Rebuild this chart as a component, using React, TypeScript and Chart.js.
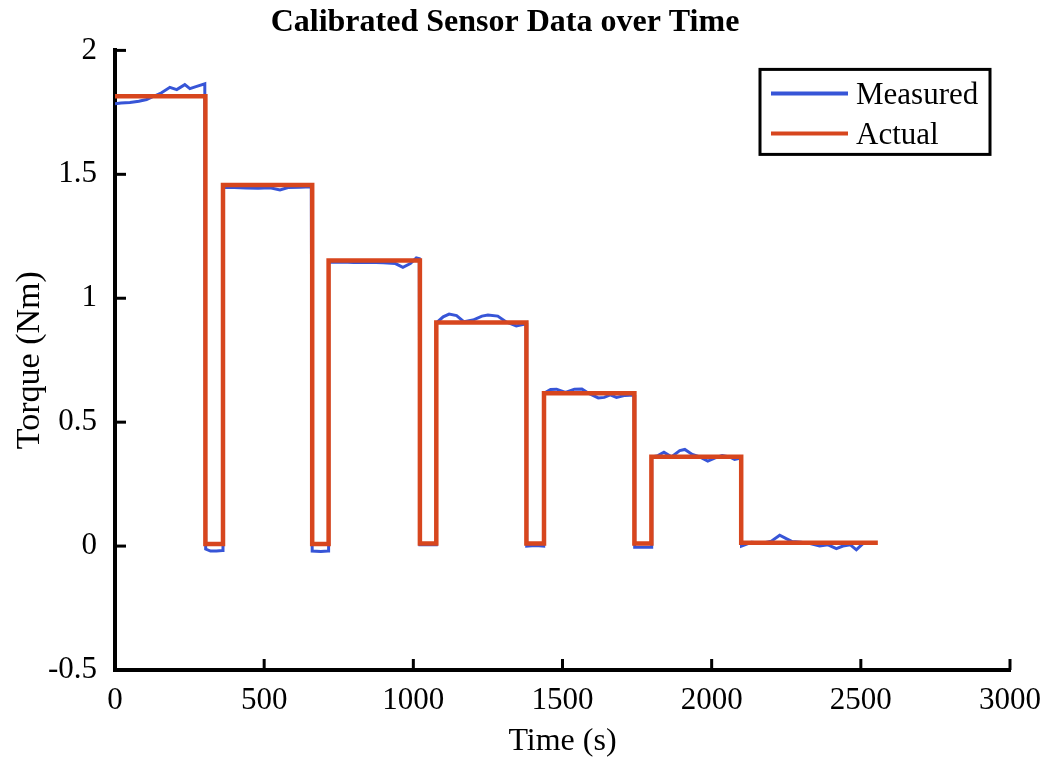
import React, { useEffect, useRef } from "react";
import { Chart, registerables } from "chart.js";

Chart.register(...registerables);

const chartTitle = "Calibrated Sensor Data over Time";
const xTitle = "Time (s)";
const yTitle = "Torque (Nm)";
const seriesNames = ["Measured", "Actual"];

const xTicks = [0, 500, 1000, 1500, 2000, 2500, 3000];
const yTicks = [-0.5, 0, 0.5, 1, 1.5, 2];

// Actual (reference) torque: step profile
const actualTime = [0, 303, 303, 362, 362, 661, 661, 716, 716, 1022, 1022, 1077, 1077, 1379, 1379, 1438, 1438, 1741, 1741, 1798, 1798, 2099, 2099, 2557];
const actualTorque = [1.815, 1.815, 0.008, 0.008, 1.457, 1.457, 0.008, 0.008, 1.152, 1.152, 0.01, 0.01, 0.902, 0.902, 0.01, 0.01, 0.617, 0.617, 0.01, 0.01, 0.36, 0.36, 0.013, 0.013];

// Measured torque (sensor)
const measuredTime = [
  0, 20, 50, 80, 106, 130, 156, 184, 207, 234, 251, 274, 301,
  304, 320, 340, 360,
  362, 400, 440, 480, 520, 553, 580, 620, 658,
  661, 690, 714,
  716, 760, 800, 850, 900, 940, 965, 990, 1010, 1020,
  1022, 1050, 1076,
  1077, 1100, 1120, 1145, 1170, 1200, 1230, 1250, 1283, 1310, 1345, 1370, 1378,
  1380, 1410, 1437,
  1439, 1460, 1480, 1510, 1540, 1565, 1590, 1620, 1640, 1660, 1681, 1710, 1740,
  1742, 1770, 1797,
  1799, 1820, 1840, 1865, 1893, 1910, 1935, 1960, 1987, 2010, 2035, 2060, 2077, 2098,
  2100, 2133, 2170, 2200, 2228, 2250, 2270, 2300, 2330, 2362, 2390, 2418, 2440, 2465, 2485, 2507, 2520,
];
const measuredTorque = [
  1.785, 1.788, 1.79, 1.795, 1.802, 1.815, 1.829, 1.851, 1.842, 1.862, 1.846, 1.855, 1.865,
  -0.012, -0.02, -0.02, -0.018,
  1.448, 1.447, 1.445, 1.444, 1.446, 1.437, 1.447, 1.448, 1.45,
  -0.02, -0.022, -0.02,
  1.145, 1.146, 1.144, 1.145, 1.143, 1.14, 1.125, 1.14, 1.163, 1.16,
  0.005, 0.005, 0.005,
  0.9, 0.925, 0.936, 0.93, 0.905, 0.912, 0.928, 0.932, 0.928, 0.905, 0.888, 0.895, 0.9,
  0.0, 0.002, 0.0,
  0.617, 0.632, 0.633, 0.62, 0.633, 0.634, 0.615, 0.598, 0.6, 0.61, 0.6, 0.608, 0.61,
  -0.005, -0.005, -0.005,
  0.36, 0.365, 0.379, 0.36, 0.385, 0.39, 0.37, 0.36, 0.343, 0.355, 0.365, 0.36, 0.35, 0.355,
  0.0, 0.015, 0.012, 0.02, 0.044, 0.03, 0.018, 0.015, 0.01, 0.0, 0.005, -0.01, 0.0, 0.005, -0.015, 0.01, 0.01,
];

const BLUE = "rgb(55, 85, 215)";
const RED = "rgb(215, 70, 30)";
const FONT = "'Liberation Serif', 'Times New Roman', serif";

const axesPlugin = {
  id: "inwardTicksAndLegend",
  afterDatasetsDraw(chart: any) {
    const { ctx, chartArea, scales } = chart;
    const xs = scales.x;
    const ys = scales.y;
    ctx.save();
    ctx.strokeStyle = "#000";
    ctx.lineWidth = 3;
    ctx.lineCap = "butt";
    xs.ticks.forEach((t: any) => {
      const px = xs.getPixelForValue(t.value);
      if (Math.abs(px - chartArea.left) < 2) return;
      ctx.beginPath();
      ctx.moveTo(px, chartArea.bottom);
      ctx.lineTo(px, chartArea.bottom - 11);
      ctx.stroke();
    });
    ys.ticks.forEach((t: any) => {
      const py = ys.getPixelForValue(t.value);
      if (Math.abs(py - chartArea.bottom) < 2) return;
      ctx.beginPath();
      ctx.moveTo(chartArea.left, py);
      ctx.lineTo(chartArea.left + 11, py);
      ctx.stroke();
    });

    // legend box
    const boxW = 230;
    const boxH = 85;
    const bx = chartArea.right - 20 - boxW;
    const by = chartArea.top + 19;
    ctx.fillStyle = "#fff";
    ctx.fillRect(bx, by, boxW, boxH);
    ctx.lineWidth = 3;
    ctx.strokeStyle = "#000";
    ctx.strokeRect(bx, by, boxW, boxH);
    ctx.font = `31px ${FONT}`;
    ctx.textBaseline = "middle";
    ctx.textAlign = "left";
    chart.data.datasets.forEach((ds: any, i: number) => {
      const ly = by + 24 + i * 40;
      ctx.strokeStyle = ds.borderColor;
      ctx.lineWidth = 4;
      ctx.beginPath();
      ctx.moveTo(bx + 11, ly);
      ctx.lineTo(bx + 88, ly);
      ctx.stroke();
      ctx.fillStyle = "#000";
      ctx.fillText(ds.label, bx + 96, ly + 2);
    });
    ctx.restore();
  },
};

export default function App() {
  const canvasRef = useRef<HTMLCanvasElement | null>(null);

  useEffect(() => {
    document.body.style.margin = "0";
    const canvas = canvasRef.current;
    if (!canvas) return;
    const measuredData = measuredTime.map((t, i) => ({ x: t, y: measuredTorque[i] }));
    const actualData = actualTime.map((t, i) => ({ x: t, y: actualTorque[i] }));

    const chart = new Chart(canvas, {
      type: "line",
      data: {
        datasets: [
          {
            label: seriesNames[0],
            data: measuredData,
            borderColor: BLUE,
            backgroundColor: BLUE,
            borderWidth: 3,
            pointRadius: 0,
            tension: 0,
            order: 2,
          },
          {
            label: seriesNames[1],
            data: actualData,
            borderColor: RED,
            backgroundColor: RED,
            borderWidth: 4.5,
            pointRadius: 0,
            tension: 0,
            order: 1,
          },
        ],
      },
      options: {
        animation: false,
        responsive: true,
        maintainAspectRatio: false,
        layout: { padding: { top: 0, right: 35, bottom: 0, left: 0 } },
        plugins: {
          legend: { display: false },
          tooltip: { enabled: false },
          title: {
            display: true,
            text: chartTitle,
            color: "#000",
            font: { family: FONT, size: 32, weight: "bold" },
            padding: { top: 4, bottom: 8 },
          },
        },
        scales: {
          x: {
            type: "linear",
            min: 0,
            max: 3000,
            afterBuildTicks: (scale: any) => {
              scale.ticks = xTicks.map((v) => ({ value: v }));
            },
            afterFit: (scale: any) => {
              scale.height = 91;
            },
            grid: { display: false },
            border: { display: true, color: "#000", width: 4 },
            ticks: {
              color: "#000",
              font: { family: FONT, size: 31 },
              padding: 4,
              maxRotation: 0,
              autoSkip: false,
              callback: (v: any) => String(v),
            },
            title: {
              display: true,
              text: xTitle,
              color: "#000",
              font: { family: FONT, size: 32 },
              padding: { top: 0, bottom: 0 },
            },
          },
          y: {
            type: "linear",
            min: -0.5,
            max: 2,
            afterBuildTicks: (scale: any) => {
              scale.ticks = yTicks.map((v) => ({ value: v }));
            },
            afterFit: (scale: any) => {
              scale.width = 115;
            },
            grid: { display: false },
            border: { display: true, color: "#000", width: 4 },
            ticks: {
              color: "#000",
              font: { family: FONT, size: 31 },
              padding: 10,
              autoSkip: false,
              callback: (v: any) => String(v),
            },
            title: {
              display: true,
              text: yTitle,
              color: "#000",
              font: { family: FONT, size: 34 },
              padding: { top: 10, bottom: 0 },
            },
          },
        },
      },
      plugins: [axesPlugin],
    });
    return () => chart.destroy();
  }, []);

  return (
    <div style={{ width: 1045, height: 761, position: "relative", background: "#fff" }}>
      <canvas ref={canvasRef} />
    </div>
  );
}
